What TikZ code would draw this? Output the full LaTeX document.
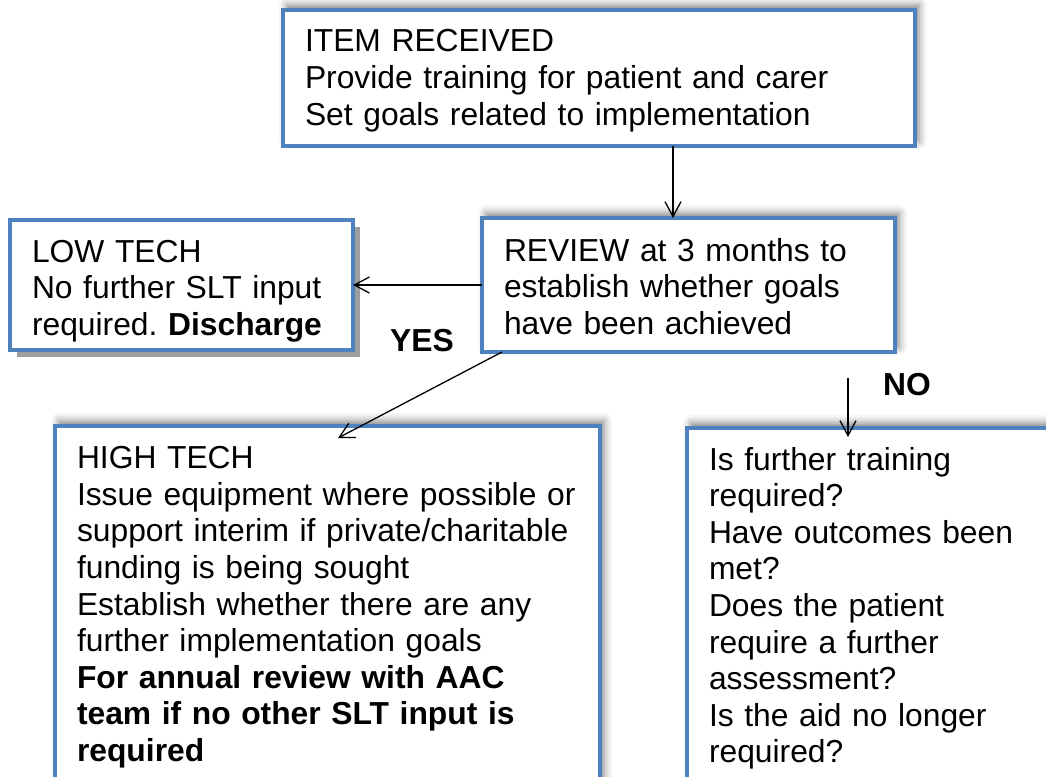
\documentclass[tikz,border=0pt]{standalone}
\usepackage{fontspec}
\setmainfont{Liberation Sans}
\usepackage{tikz}
\usetikzlibrary{arrows.meta,shadows,shadows.blur}
\definecolor{boxblue}{RGB}{79,129,189}
\newcommand{\boxfont}{\fontsize{31.8}{36.6}\selectfont\frenchspacing}

\begin{document}
\begin{tikzpicture}[x=1pt, y=-1pt,
		box/.style={draw=boxblue, line width=4.5pt, fill=white, anchor=north west, outer sep=0pt,
			inner xsep=22pt, inner ysep=0pt, align=left, font=\boxfont},
		softshadow/.style={blur shadow={shadow xshift=4pt, shadow yshift=5pt, shadow blur radius=8pt, shadow opacity=50}},
		hardshadow/.style={drop shadow={shadow xshift=7pt, shadow yshift=-7pt, fill=black!38, opacity=1}},
		link/.style={line width=1.3pt, -{Straight Barb[length=15pt, width=16pt]}},
		answer/.style={font=\boxfont\bfseries, anchor=base west, inner sep=0pt}]
			%%%%% START %%%%%
			
			\useasboundingbox (0,0) rectangle (1046,776);
			\clip (0,0) rectangle (1046,776);
			
			\node[box, softshadow, text width=588pt, text height=42pt, text depth=94pt] (item) at (283,10)
				{ITEM RECEIVED\\Provide training for patient and carer\\Set goals related to implementation};
			
			\node[box, hardshadow, text width=299pt, text height=42pt, text depth=88pt] (lowtech) at (10,220)
				{LOW TECH\\No further SLT input\\required. \textbf{Discharge}};
			
			\node[box, softshadow, text width=369pt, text height=43pt, text depth=91pt] (review) at (482,218)
				{REVIEW at 3 months to\\establish whether goals\\have been achieved};
			
			\node[box, softshadow, text width=501pt, text height=42.6pt, text depth=400pt] (hightech) at (55,426)
				{HIGH TECH\\Issue equipment where possible or\\support interim if private/charitable\\funding is being sought\\Establish whether there are any\\further implementation goals\\\textbf{For annual review with AAC}\\\textbf{team if no other SLT input is}\\\textbf{required}};
			
			\node[box, softshadow, text width=356pt, text height=42pt, text depth=400pt] (questions) at (687,428)
				{Is further training\\required?\\Have outcomes been\\met?\\Does the patient\\require a further\\assessment?\\Is the aid no longer\\required?};
			
			\coordinate (downx) at (673,0);
			\draw[link] (item.south -| downx) -- (review.north -| downx);
			\draw[link] (review.west) -- (lowtech.east);
			
			\coordinate (yestip) at (338,438);
			\draw[link] ([xshift=20pt]review.south west) -- (yestip);
			\node[answer] (yes) at (390,351) {YES};
			
			\coordinate (nostart) at (848,378);
			\coordinate (notip) at (848,437);
			\draw[link] (nostart) -- (notip);
			\node[answer] (no) at (883,395) {NO};
			
			%%%%% END %%%%%
\end{tikzpicture}
\end{document}
